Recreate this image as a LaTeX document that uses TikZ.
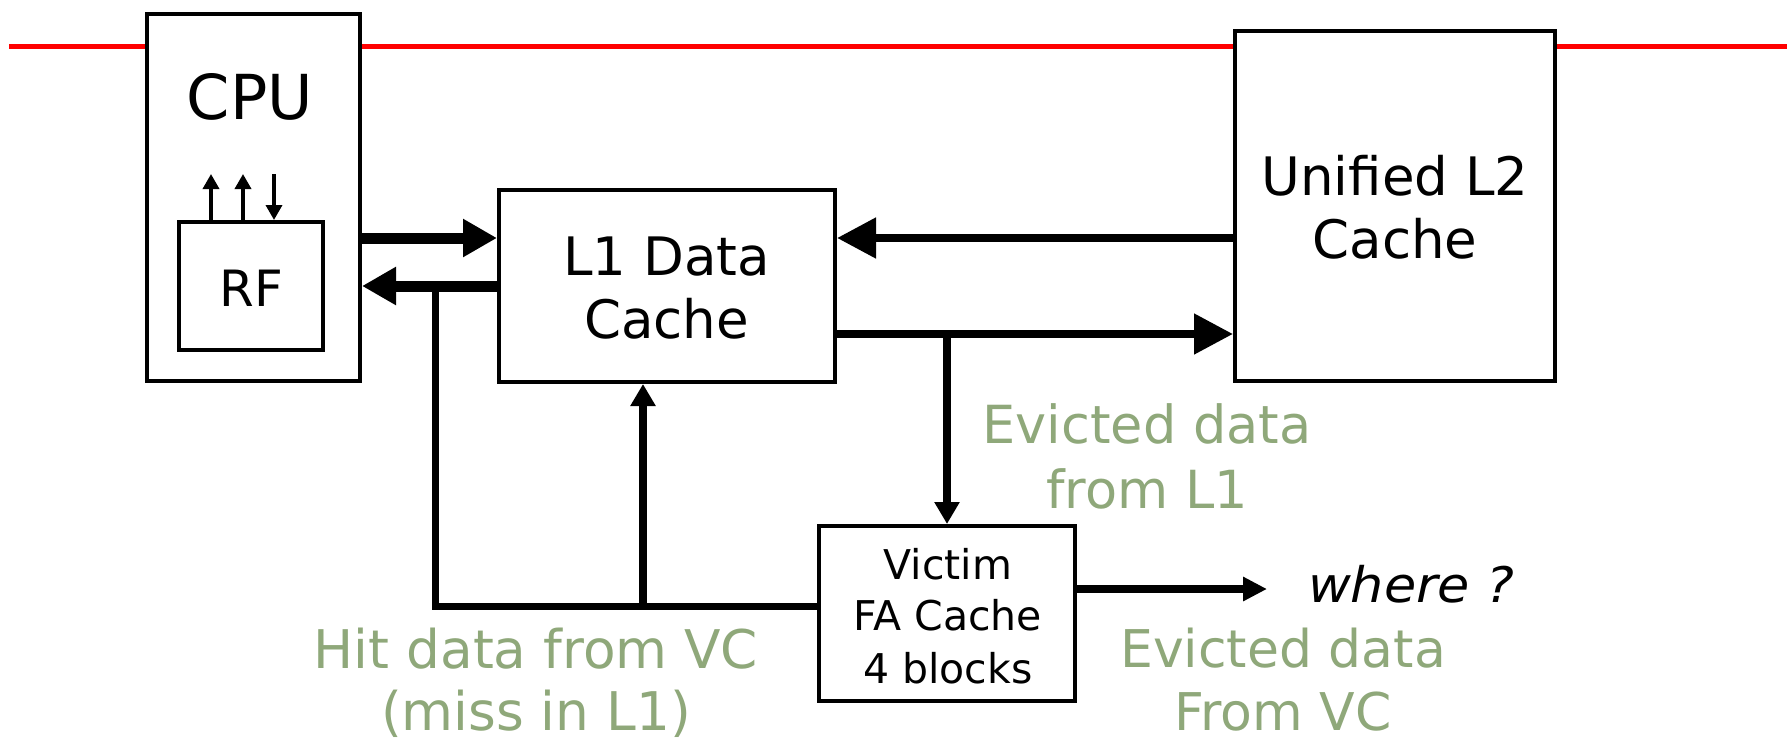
\documentclass[tikz,border=0pt]{standalone}
\usepackage{fontspec}
\setmainfont{DejaVu Sans}
\newfontfamily\wideobl[FakeStretch=1.07]{DejaVu Sans}
\usetikzlibrary{arrows.meta}
\definecolor{lblgreen}{RGB}{143,168,122}
\newcommand\fsz[1]{\fontsize{#1}{#1}\selectfont}
\begin{document}
\begin{tikzpicture}[x=1pt,y=-1pt,
  box/.style={draw=black, fill=white, line width=4pt, rectangle, inner sep=0pt},
  txt/.style={anchor=base, inner sep=0pt, outer sep=0pt},
  green/.style={txt, text=lblgreen},
  bigarrow/.style={line width=11pt, -{Triangle[length=34pt,width=36pt]}},
  busarrow/.style={line width=8pt, -{Triangle[length=39pt,width=39pt]}},
  midarrow/.style={line width=8pt, -{Triangle[length=22pt,width=24pt]}},
  smallarrow/.style={line width=8pt, -{Triangle[length=24pt,width=23pt]}},
  tinyarrow/.style={line width=3.5pt, -{Triangle[length=15pt,width=16pt]}},
  fbline/.style={line width=7pt}]
\useasboundingbox (0,0) rectangle (1787,739);
\fill[white] (0,0) rectangle (1787,739);
% red line
\coordinate (redL) at (9,46);
\coordinate (redR) at (1787,46);
\draw[red, line width=5pt] (redL) -- (redR);
% boxes
\node[box, minimum width=213pt, minimum height=367pt] (cpu) at (253.5,197.5) {};
\node[box, minimum width=144pt, minimum height=128pt] (rf) at (251,286) {};
\node[box, minimum width=336pt, minimum height=192pt] (l1) at (667,286) {};
\node[box, minimum width=320pt, minimum height=350.5pt] (l2) at (1395,205.75) {};
\node[box, minimum width=256pt, minimum height=175pt] (vc) at (947,613.5) {};
% texts
\node[txt, font=\fsz{62}] (cput) at (250,119) {CPU};
\node[txt, font=\fsz{50}] (rft) at (251,306) {RF};
\node[txt, font=\fsz{53}] (l1ta) at (666.5,275) {L1 Data};
\node[txt, font=\fsz{53}] (l1tb) at (666.5,338) {Cache};
\node[txt, font=\fsz{53}] (l2ta) at (1395,195) {Unified L2};
\node[txt, font=\fsz{53}] (l2tb) at (1395,258) {Cache};
\node[txt, font=\fsz{41}] (vca) at (948,579) {Victim};
\node[txt, font=\fsz{41}] (vcb) at (948,630) {FA Cache};
\node[txt, font=\fsz{41}] (vcc) at (948,683) {4 blocks};
\node[txt, anchor=base west, font=\wideobl\itshape\fsz{49}] (where) at (1308,602) {where ?};
\node[green, font=\fsz{52.5}] (ev1a) at (1147,443) {Evicted data};
\node[green, font=\fsz{52.5}] (ev1b) at (1147,508) {from L1};
\node[green, font=\fsz{53.3}] (hita) at (536,668) {Hit data from VC};
\node[green, font=\fsz{53.3}] (hitb) at (536,730) {(miss in L1)};
\node[green, font=\fsz{52}] (ev2a) at (1283,667) {Evicted data};
\node[green, font=\fsz{52}] (ev2b) at (1283,730) {From VC};
% helper coordinates
\coordinate (y238) at (0,238);
\coordinate (y286) at (0,286);
\coordinate (y334) at (0,334);
\coordinate (y589) at (0,589);
\coordinate (y606) at (0,606);
\coordinate (br) at (947,334);
\coordinate (fbc) at (435,606);
\coordinate (fbt) at (435,286);
\coordinate (upb) at (643,606);
\coordinate (whereend) at (1267,589);
\coordinate (ra) at (211,174);
\coordinate (rb) at (243,174);
\coordinate (rc) at (274,174);
% connectors
\draw[bigarrow] (cpu.east |- y238) -- (l1.west |- y238);
\draw[bigarrow] (l1.west |- y286) -- (cpu.east |- y286);
\draw[busarrow] (l2.west |- y238) -- (l1.east |- y238);
\draw[busarrow] (l1.east |- y334) -- (l2.west |- y334);
\draw[midarrow] (br) -- (br |- vc.north);
\draw[smallarrow] (vc.east |- y589) -- (whereend);
\draw[fbline] (vc.west |- y606) -- (fbc) -- (fbt);
\draw[midarrow] (upb) -- (upb |- l1.south);
\draw[tinyarrow] (ra |- rf.north) -- (ra);
\draw[tinyarrow] (rb |- rf.north) -- (rb);
\draw[tinyarrow] (rc) -- (rc |- rf.north);
\end{tikzpicture}
\end{document}
